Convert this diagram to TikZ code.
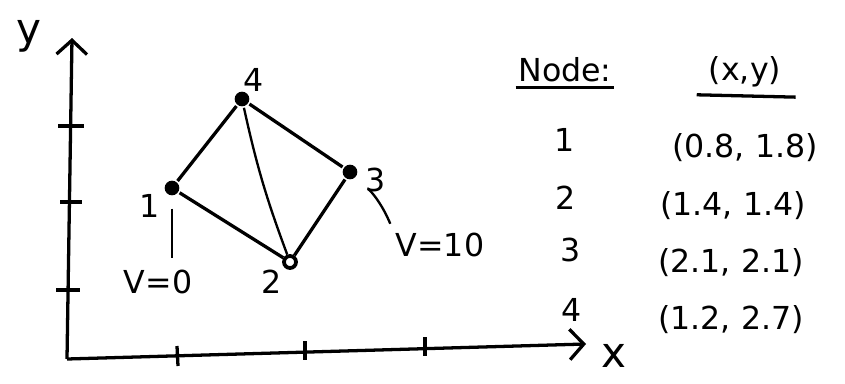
\documentclass[tikz,border=0pt]{standalone}
\usepackage{fontspec}
\setmainfont{DejaVu Sans}
\usepackage{tikz}
\usetikzlibrary{positioning,arrows.meta}

\begin{document}
\begin{tikzpicture}[x=0.03cm, y=-0.03cm, line width=2.8pt, font=\fontsize{27}{30}\selectfont]
  \tikzstyle{pt}=[circle,fill,inner sep=0pt,minimum size=0.44cm]
  \tikzstyle{hollow}=[circle,draw,fill=white,inner sep=0pt,minimum size=0.36cm,line width=3.2pt]
  \tikzstyle{lbl}=[inner sep=1pt]
  \tikzstyle{axlbl}=[inner sep=1pt,font=\fontsize{36}{38}\selectfont]
  \tikzstyle{axis}=[-{Straight Barb[length=12pt,width=26pt]}]
  \useasboundingbox (0,0) rectangle (845,383);
  % axes
  \coordinate (o) at (67,359);
  \coordinate (xend) at (586,344);
  \coordinate (yend) at (72,38);
  \draw[axis] (o) -- (xend);
  \draw[axis] (o) -- (yend);
  \node[axlbl] (ylab) at (29,36) {y};
  \node[axlbl] (xlab) at (614,356) {x};
  % ticks
  \draw (58,126) -- (84,126);
  \draw (60,202) -- (82,202);
  \draw (56,290) -- (80,290);
  \draw (177,346) -- (178,366);
  \draw (305,341) -- (305,360);
  \draw (425,337) -- (425,356);
  % mesh
  \node[pt] (n1) at (172,188) {};
  \node[pt] (n4) at (242,99) {};
  \node[pt] (n3) at (350,172) {};
  \node[hollow] (n2) at (290,262) {};
  \draw (n1) -- (n4);
  \draw (n4) -- (n3);
  \draw (n3) -- (n2);
  \draw (n2) -- (n1);
  \draw[line width=2pt] (n4) to[bend right=4] (n2);
  \node[lbl] (l1) at (150,206) {1};
  \node[lbl] (l4) at (254,80) {4};
  \node[lbl] (l3) at (376,180) {3};
  \node[lbl] (l2) at (272,282) {2};
  % boundary values
  \node[lbl] (v0) at (158,282) {V=0};
  \node[lbl] (v10) at (440,245) {V=10};
  \draw[line width=2pt,shorten <=10pt,shorten >=8pt] (n1) -- (n1 |- v0.north);
  \draw[line width=2pt,shorten <=13pt,shorten >=6pt] (n3) to[bend left=12] (v10.north west);
  % table
  \node[lbl] (hnode) at (565,70) {Node:};
  \node[lbl] (hxy) at (745,72) {(x,y)};
  \draw ([yshift=-2pt]hnode.south west) -- ([yshift=-2pt]hnode.south east);
  \draw ([xshift=-8pt,yshift=-4pt]hxy.south west) -- ([xshift=10pt,yshift=-6pt]hxy.south east);
  \node[lbl] (r1) at (565,140) {1};
  \node[lbl] (r2) at (566,198) {2};
  \node[lbl] (r3) at (571,250) {3};
  \node[lbl] (r4) at (572,310) {4};
  \node[lbl] (c1) at (745,148) {(0.8, 1.8)};
  \node[lbl] (c2) at (733,206) {(1.4, 1.4)};
  \node[lbl] (c3) at (731,263) {(2.1, 2.1)};
  \node[lbl] (c4) at (731,320) {(1.2, 2.7)};
\end{tikzpicture}
\end{document}
